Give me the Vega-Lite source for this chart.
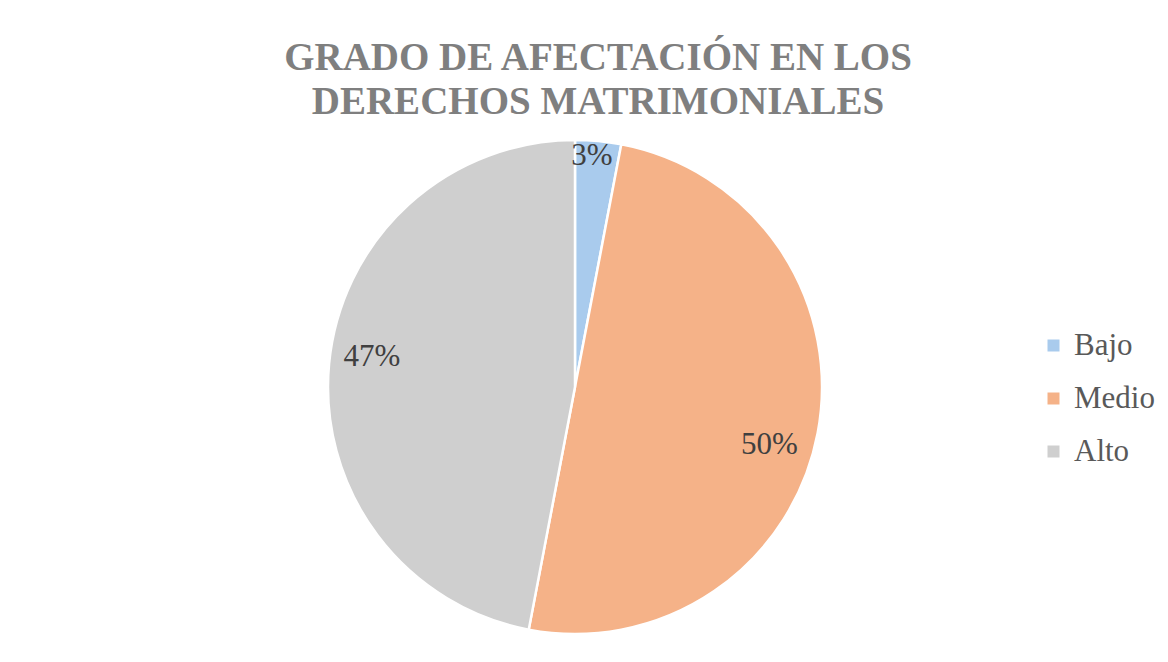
{
  "$schema": "https://vega.github.io/schema/vega-lite/v6.json",
  "width": 1150,
  "height": 494,
  "autosize": "none",
  "padding": {"left": 0, "top": 140, "right": 18, "bottom": 28},
  "background": "white",
  "config": {"view": {"stroke": null}},
  "title": {
    "text": ["GRADO DE AFECTACIÓN EN LOS", "DERECHOS MATRIMONIALES"],
    "font": "Liberation Serif",
    "fontSize": 39,
    "fontWeight": "bold",
    "color": "#7f7f7f",
    "lineHeight": 44,
    "anchor": "middle",
    "dx": 23,
    "offset": 13
  },
  "data": {
    "values": [
      {"grado": "Bajo", "porcentaje": 0.03, "orden": 1},
      {"grado": "Medio", "porcentaje": 0.50, "orden": 2},
      {"grado": "Alto", "porcentaje": 0.47, "orden": 3}
    ]
  },
  "encoding": {
    "theta": {"field": "porcentaje", "type": "quantitative", "stack": true},
    "order": {"field": "orden", "type": "quantitative"}
  },
  "layer": [
    {
      "mark": {"type": "arc", "outerRadius": 247, "stroke": "white", "strokeWidth": 2.5},
      "encoding": {
        "color": {
          "field": "grado",
          "type": "nominal",
          "scale": {"domain": ["Bajo", "Medio", "Alto"], "range": ["#a9cbed", "#f5b288", "#cfcfcf"]},
          "legend": {
            "orient": "none",
            "legendX": 1038,
            "legendY": 190,
            "padding": 0,
            "title": null,
            "symbolType": "square",
            "symbolSize": 144,
            "symbolStrokeWidth": 0,
            "labelFont": "Liberation Serif",
            "labelFontSize": 31,
            "labelColor": "#595959",
            "labelOffset": 5,
            "rowPadding": 21
          }
        }
      }
    },
    {
      "mark": {"type": "text", "font": "Liberation Serif", "fontSize": 31, "fill": "#404040", "radius": 232, "dx": -5},
      "encoding": {
        "text": {"condition": {"test": "datum.grado === 'Bajo'", "field": "porcentaje", "format": ".0%"}, "value": ""}
      }
    },
    {
      "mark": {"type": "text", "font": "Liberation Serif", "fontSize": 31, "fill": "#404040", "radius": 202, "dy": 20, "dx": -4},
      "encoding": {
        "text": {"condition": {"test": "datum.grado === 'Medio'", "field": "porcentaje", "format": ".0%"}, "value": ""}
      }
    },
    {
      "mark": {"type": "text", "font": "Liberation Serif", "fontSize": 31, "fill": "#404040", "radius": 204, "dy": -11},
      "encoding": {
        "text": {"condition": {"test": "datum.grado === 'Alto'", "field": "porcentaje", "format": ".0%"}, "value": ""}
      }
    }
  ]
}
